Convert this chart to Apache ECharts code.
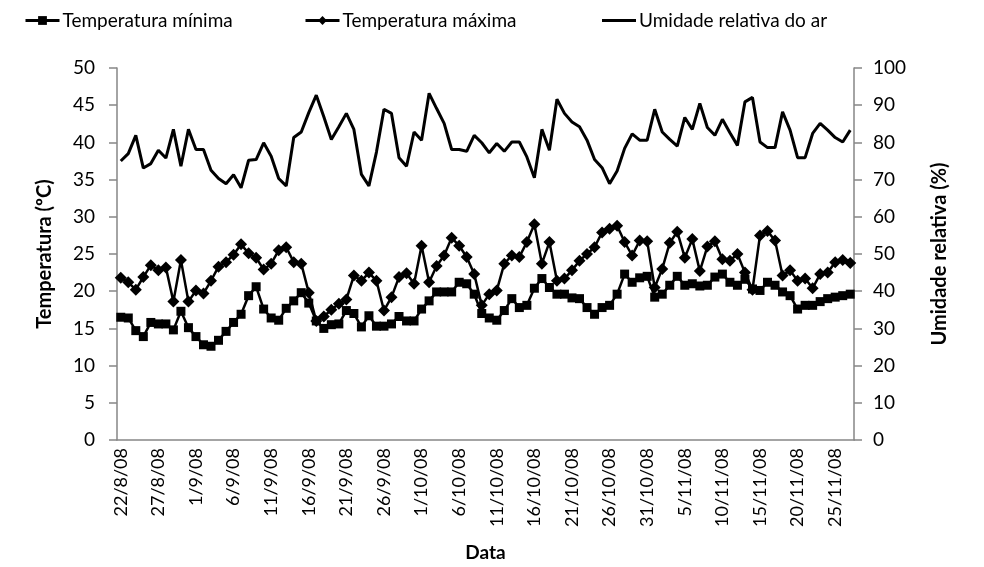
<!DOCTYPE html>
<html>
<head>
<meta charset="utf-8">
<title>Temperatura e umidade</title>
<script src="https://cdn.jsdelivr.net/npm/echarts@6/dist/echarts.min.js"></script>
<style>
  html, body { margin: 0; padding: 0; background: #fff; }
  #chart { width: 984px; height: 567px; }
</style>
</head>
<body>
<div id="chart"></div>
<script>
// dias de 22/8/08 a 27/11/08
var startDate = [2008, 7, 22];
var nDays = 98;

var tMin = [16.5, 16.4, 14.7, 13.9, 15.8, 15.6, 15.6, 14.8, 17.3, 15.1,
            13.9, 12.8, 12.6, 13.4, 14.6, 15.8, 16.9, 19.4, 20.6, 17.6,
            16.4, 16.1, 17.7, 18.7, 19.8, 18.4, 16.0, 15.0, 15.5, 15.6,
            17.4, 17.0, 15.2, 16.7, 15.3, 15.3, 15.6, 16.6, 16.0, 16.0,
            17.6, 18.7, 19.9, 19.9, 19.9, 21.2, 21.0, 19.6, 17.0, 16.4,
            16.1, 17.4, 19.0, 17.8, 18.1, 20.4, 21.7, 20.5, 19.6, 19.6,
            19.1, 19.0, 17.8, 16.9, 17.8, 18.1, 19.6, 22.3, 21.2, 21.8,
            22.0, 19.2, 19.6, 20.8, 22.0, 20.8, 21.0, 20.7, 20.8, 21.9,
            22.3, 21.2, 20.8, 21.6, 20.3, 20.1, 21.2, 20.8, 19.9, 19.4,
            17.6, 18.1, 18.1, 18.6, 19.0, 19.2, 19.4, 19.6];

var tMax = [21.8, 21.2, 20.2, 21.9, 23.5, 22.8, 23.2, 18.6, 24.2, 18.6,
            20.1, 19.7, 21.4, 23.3, 23.9, 24.9, 26.3, 25.1, 24.5, 22.9,
            23.7, 25.5, 25.9, 23.9, 23.7, 19.8, 16.0, 16.6, 17.5, 18.3,
            18.9, 22.1, 21.4, 22.5, 21.4, 17.4, 19.2, 21.9, 22.4, 21.0,
            26.1, 21.2, 23.4, 24.8, 27.2, 26.1, 24.6, 22.3, 18.1, 19.6,
            20.1, 23.7, 24.8, 24.6, 26.6, 29.0, 23.7, 26.6, 21.4, 21.7,
            22.8, 24.1, 25.0, 25.9, 27.9, 28.4, 28.8, 26.6, 24.8, 26.8,
            26.7, 20.5, 23.0, 26.5, 28.0, 24.5, 27.0, 22.7, 26.0, 26.7,
            24.3, 24.1, 25.0, 22.5, 20.2, 27.5, 28.1, 26.8, 22.1, 22.8,
            21.4, 21.7, 20.4, 22.3, 22.5, 23.9, 24.2, 23.8];

var umidade = [75.0, 77.0, 81.9, 73.1, 74.3, 77.9, 75.8, 83.5, 73.6, 83.5,
               78.1, 78.1, 72.5, 70.3, 68.9, 71.3, 67.8, 75.2, 75.4, 79.9,
               76.3, 70.3, 68.3, 81.3, 82.8, 88.0, 92.7, 86.9, 80.8, 84.2,
               87.8, 83.5, 71.4, 68.3, 77.4, 88.9, 87.8, 75.9, 73.6, 82.8,
               80.6, 93.2, 89.1, 85.1, 78.1, 78.1, 77.6, 81.9, 79.9, 77.2,
               79.7, 77.6, 80.1, 80.1, 76.1, 70.5, 83.5, 77.9, 91.6, 87.8,
               85.5, 84.2, 80.6, 75.4, 73.2, 68.9, 72.3, 78.4, 82.3, 80.6,
               80.6, 88.9, 82.8, 80.8, 79.0, 86.7, 83.5, 90.5, 84.0, 81.9,
               86.2, 82.6, 79.2, 90.9, 92.1, 80.1, 78.6, 78.6, 88.2, 83.3,
               75.9, 75.9, 82.4, 85.1, 83.3, 81.3, 80.1, 83.3];

var seriesNames = ['Temperatura mínima', 'Temperatura máxima', 'Umidade relativa do ar'];

var datas = [];
for (var i = 0; i < nDays; i++) {
    var d = new Date(startDate[0], startDate[1], startDate[2] + i);
    datas.push(d.getDate() + '/' + (d.getMonth() + 1) + '/08');
}

var fonte = 'Lato, "Open Sans", sans-serif';
var cinza = '#868686';

var legendaBase = function (item, left, altura) {
    return {
        data: [item],
        left: left,
        top: 6,
        itemWidth: 34,
        itemHeight: altura,
        itemGap: 0,
        lineStyle: {width: 3},
        textStyle: {fontFamily: fonte, fontSize: 19, color: '#000', padding: [0, 0, 0, -2]}
    };
};

var option = {
    animation: false,
    backgroundColor: '#fff',
    legend: [
        legendaBase(seriesNames[0], 19, 11),
        legendaBase(seriesNames[1], 299, 11),
        legendaBase({name: seriesNames[2], icon: 'rect'}, 597, 3)
    ],
    grid: {left: 117, right: 130, top: 68, bottom: 127},
    xAxis: {
        type: 'category',
        data: datas,
        boundaryGap: true,
        name: 'Data',
        nameLocation: 'middle',
        nameGap: 103,
        nameTextStyle: {fontFamily: fonte, fontSize: 19, fontWeight: 'bold', color: '#000'},
        axisLine: {lineStyle: {color: cinza, width: 1.5}},
        axisTick: {interval: 4, length: 6, lineStyle: {color: cinza, width: 1.5}},
        axisLabel: {interval: 4, rotate: 90, margin: 8, fontFamily: fonte, fontSize: 18, color: '#000'},
        splitLine: {show: false}
    },
    yAxis: [
        {
            type: 'value',
            position: 'left',
            min: 0, max: 50, interval: 5,
            name: 'Temperatura (ºC)',
            nameLocation: 'middle',
            nameRotate: 90,
            nameGap: 62,
            nameTextStyle: {fontFamily: fonte, fontSize: 20, fontWeight: 'bold', color: '#000'},
            axisLine: {show: true, lineStyle: {color: cinza, width: 1.5}},
            axisTick: {show: true, length: 8, lineStyle: {color: cinza, width: 1.5}},
            axisLabel: {margin: 22, fontFamily: fonte, fontSize: 19, color: '#000'},
            splitLine: {show: false}
        },
        {
            type: 'value',
            position: 'right',
            min: 0, max: 100, interval: 10,
            name: 'Umidade relativa (%)',
            nameLocation: 'middle',
            nameRotate: 90,
            nameGap: 76,
            nameTextStyle: {fontFamily: fonte, fontSize: 20, fontWeight: 'bold', color: '#000'},
            axisLine: {show: true, lineStyle: {color: cinza, width: 1.5}},
            axisTick: {show: true, length: 8, lineStyle: {color: cinza, width: 1.5}},
            axisLabel: {margin: 19, fontFamily: fonte, fontSize: 19, color: '#000'},
            splitLine: {show: false}
        }
    ],
    series: [
        {
            name: seriesNames[0],
            type: 'line',
            yAxisIndex: 0,
            data: tMin,
            symbol: 'rect',
            symbolSize: 9,
            showAllSymbol: true,
            lineStyle: {color: '#000', width: 2.5},
            itemStyle: {color: '#000'}
        },
        {
            name: seriesNames[1],
            type: 'line',
            yAxisIndex: 0,
            data: tMax,
            symbol: 'diamond',
            symbolSize: 12,
            showAllSymbol: true,
            lineStyle: {color: '#000', width: 2.5},
            itemStyle: {color: '#000'}
        },
        {
            name: seriesNames[2],
            type: 'line',
            yAxisIndex: 1,
            data: umidade,
            symbol: 'none',
            lineStyle: {color: '#000', width: 3},
            itemStyle: {color: '#000'}
        }
    ]
};

var chart = echarts.init(document.getElementById('chart'));
chart.setOption(option);
</script>
</body>
</html>
